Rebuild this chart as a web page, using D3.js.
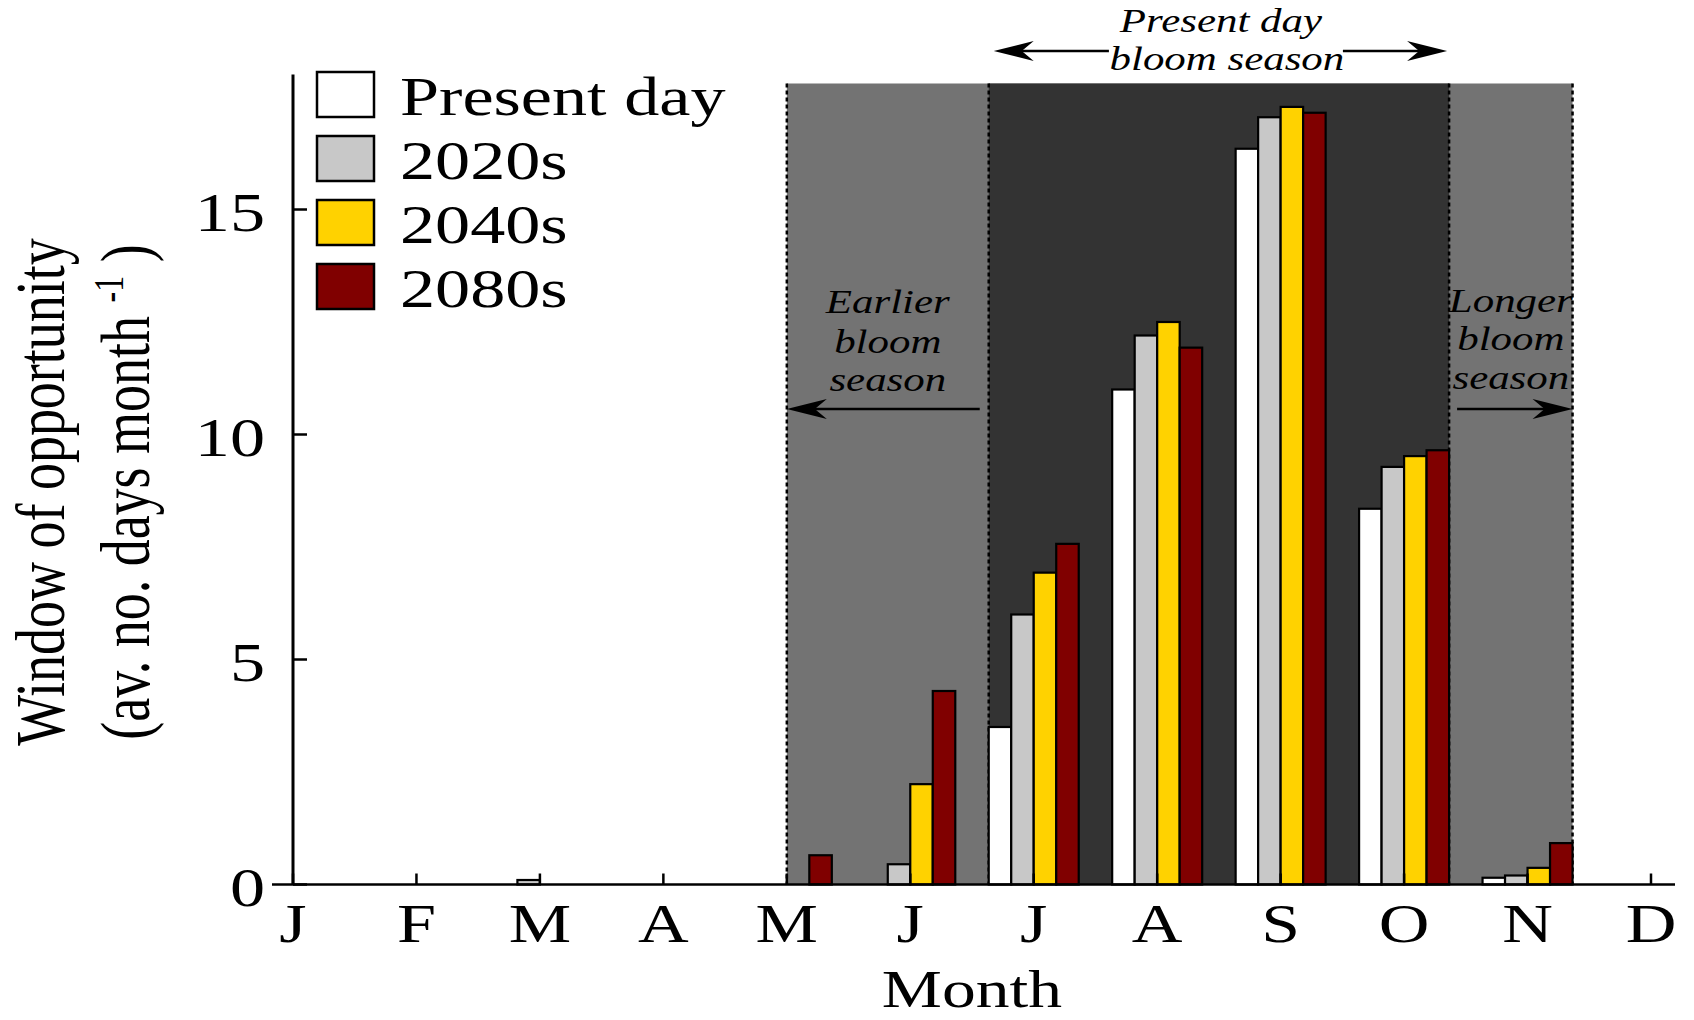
<!DOCTYPE html>
<html lang="en">
<head>
  <meta charset="UTF-8">
  <title>Window of opportunity by month</title>
  <script src="https://d3js.org/d3.v7.min.js"></script>
  <style>
    body {
      margin: 0;
      background: #fff;
    }
    svg text {
      font-family: 'Liberation Serif', 'Times New Roman', serif;
      fill: #000;
    }
    .note {
      font-style: italic;
      font-size: 33px;
    }
  </style>
</head>
<body>
  <svg id="chart" width="1694" height="1020"></svg>
  <script>
    // months and their tick labels
    const months = ["Jan", "Feb", "Mar", "Apr", "May", "Jun", "Jul", "Aug", "Sep", "Oct", "Nov", "Dec"];
    const monthLabels = ["J", "F", "M", "A", "M", "J", "J", "A", "S", "O", "N", "D"];

    // window of opportunity, av. no. days per month
    const presentDay = [0, 0, 0, 0, 0, 0, 3.5, 11.0, 16.35, 8.35, 0.15, 0];
    const s2020 = [0, 0, 0.1, 0, 0, 0.45, 6.0, 12.2, 17.05, 9.28, 0.2, 0];
    const s2040 = [0, 0, 0, 0, 0, 2.23, 6.93, 12.5, 17.28, 9.52, 0.37, 0];
    const s2080 = [0, 0, 0, 0, 0.65, 4.3, 7.57, 11.93, 17.15, 9.65, 0.92, 0];

    const seriesNames = ["Present day", "2020s", "2040s", "2080s"];
    const seriesColors = ["#ffffff", "#c8c8c8", "#ffd200", "#800000"];
    const seriesValues = [presentDay, s2020, s2040, s2080];

    const yTicks = [0, 5, 10, 15];

    const SX = 1.3;   // the figure is stretched horizontally, so is its text
    const bw = 22.5;  // one bar
    const svg = d3.select("#chart");

    const x = d3.scalePoint().domain(months).range([293, 1651]);
    const y = d3.scaleLinear().domain([0, 18]).range([884.5, 74.5]);

    function sText(g, px, py, str, size, anchor) {
      return g.append("text")
        .attr("transform", `translate(${px},${py}) scale(${SX},1)`)
        .attr("text-anchor", anchor || "middle")
        .style("font-size", size + "px")
        .text(str);
    }

    // shaded seasons
    const shadeTop = y(17.8);
    const lightL = x("May"), lightR = x("Nov") + 2 * bw;
    const darkL = x("Jul") - 2 * bw, darkR = x("Oct") + 2 * bw;

    svg.append("rect")
      .attr("x", lightL).attr("y", shadeTop)
      .attr("width", lightR - lightL).attr("height", y(0) - shadeTop)
      .attr("fill", "#737373");
    svg.append("rect")
      .attr("x", darkL).attr("y", shadeTop)
      .attr("width", darkR - darkL).attr("height", y(0) - shadeTop)
      .attr("fill", "#333333");

    svg.selectAll(".bound")
      .data([lightL, darkL, darkR, lightR])
      .enter().append("line")
      .attr("x1", d => d).attr("x2", d => d)
      .attr("y1", shadeTop).attr("y2", y(0))
      .attr("stroke", "#000")
      .attr("stroke-width", 2.5)
      .attr("stroke-dasharray", "4,3");

    // bars
    const bars = [];
    seriesValues.forEach((vals, si) => {
      vals.forEach((v, mi) => {
        if (v > 0) bars.push({ month: months[mi], si, v });
      });
    });

    svg.selectAll(".bar")
      .data(bars)
      .enter().append("rect")
      .attr("class", "bar")
      .attr("x", d => x(d.month) + (d.si - 2) * bw)
      .attr("y", d => y(d.v))
      .attr("width", bw)
      .attr("height", d => y(0) - y(d.v))
      .attr("fill", d => seriesColors[d.si])
      .attr("stroke", "#000")
      .attr("stroke-width", 2.2);

    // axes
    const axisG = svg.append("g");
    axisG.append("line")
      .attr("x1", x.range()[0]).attr("x2", x.range()[0])
      .attr("y1", y(18)).attr("y2", y(0))
      .attr("stroke", "#000").attr("stroke-width", 3);
    axisG.append("line")
      .attr("x1", x.range()[0] - 21).attr("x2", x.range()[1] + 24)
      .attr("y1", y(0)).attr("y2", y(0))
      .attr("stroke", "#000").attr("stroke-width", 2.5);

    axisG.selectAll(".ytick")
      .data(yTicks)
      .enter().append("line")
      .attr("x1", x.range()[0]).attr("x2", x.range()[0] + 14)
      .attr("y1", d => y(d)).attr("y2", d => y(d))
      .attr("stroke", "#000").attr("stroke-width", 2.5);
    yTicks.forEach(t => sText(axisG, 265, y(t) + 21, String(t), 54, "end"));

    axisG.selectAll(".xtick")
      .data(months)
      .enter().append("line")
      .attr("x1", d => x(d)).attr("x2", d => x(d))
      .attr("y1", y(0)).attr("y2", y(0) - 11)
      .attr("stroke", "#000").attr("stroke-width", 2.5);
    months.forEach((m, i) => sText(axisG, x(m), 942, monthLabels[i], 54));

    sText(svg, (x.range()[0] + x.range()[1]) / 2, 1007, "Month", 52);

    // y title, two lines
    svg.append("text")
      .attr("transform", `translate(64,492) scale(${SX},1) rotate(-90)`)
      .attr("text-anchor", "middle")
      .style("font-size", "54px")
      .text("Window of opportunity");
    const yt2 = svg.append("text")
      .attr("transform", `translate(149,492) scale(${SX},1) rotate(-90)`)
      .attr("text-anchor", "middle")
      .style("font-size", "54px");
    yt2.append("tspan").text("(av. no. days month ");
    yt2.append("tspan").style("font-size", "32px").attr("dy", -20).text("-1");
    yt2.append("tspan").attr("dy", 20).text(" )");

    // legend
    const legend = svg.append("g");
    seriesNames.forEach((name, i) => {
      const ly = 72 + i * 64;
      legend.append("rect")
        .attr("x", 317).attr("y", ly)
        .attr("width", 57).attr("height", 45)
        .attr("fill", seriesColors[i])
        .attr("stroke", "#000").attr("stroke-width", 2.5);
      sText(legend, 400, ly + 43, name, 54, "start");
    });

    // arrows
    function arrow(g, x1, x2, ay) {
      const dir = x2 > x1 ? 1 : -1;
      const L = 40, H = 10;
      g.append("line")
        .attr("x1", x1).attr("x2", x2 - dir * L * 0.6)
        .attr("y1", ay).attr("y2", ay)
        .attr("stroke", "#000").attr("stroke-width", 2.5);
      g.append("path")
        .attr("d", `M${x2},${ay} L${x2 - dir * L},${ay - H} L${x2 - dir * L * 0.7},${ay} L${x2 - dir * L},${ay + H} Z`)
        .attr("fill", "#000");
    }

    const notes = svg.append("g");
    const midDark = (darkL + darkR) / 2;
    sText(notes, midDark + 2, 32, "Present day", 33).attr("class", "note");
    sText(notes, midDark + 8, 70, "bloom season", 33).attr("class", "note");
    arrow(notes, midDark - 110, darkL + 5, 51);
    arrow(notes, midDark + 124, darkR - 2, 51);

    const midEarly = (lightL + darkL) / 2;
    sText(notes, midEarly, 313, "Earlier", 33).attr("class", "note");
    sText(notes, midEarly, 353, "bloom", 33).attr("class", "note");
    sText(notes, midEarly, 391, "season", 33).attr("class", "note");
    arrow(notes, darkL - 9, lightL, 409);

    const midLate = (darkR + lightR) / 2;
    sText(notes, midLate, 312, "Longer", 33).attr("class", "note");
    sText(notes, midLate, 350, "bloom", 33).attr("class", "note");
    sText(notes, midLate, 389, "season", 33).attr("class", "note");
    arrow(notes, darkR + 8, lightR, 409);
  </script>
</body>
</html>
